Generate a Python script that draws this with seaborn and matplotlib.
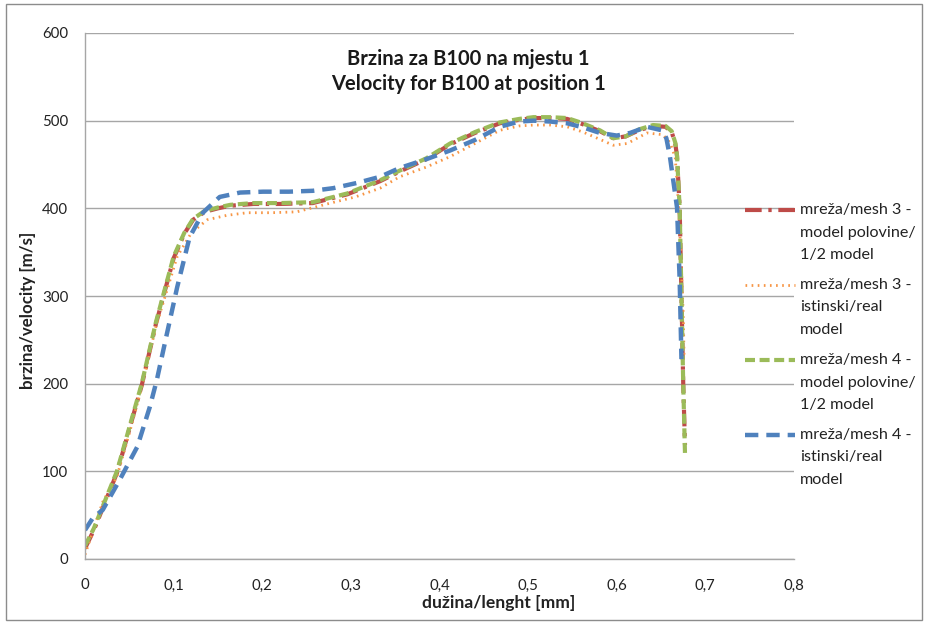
import matplotlib
matplotlib.use("Agg")
import matplotlib.pyplot as plt
import seaborn as sns
import pandas as pd
from matplotlib.patches import Rectangle
from matplotlib.lines import Line2D
from matplotlib.font_manager import FontProperties

# ---- data ----
labels = [
    "mreža/mesh 3 -\nmodel polovine/\n1/2 model",
    "mreža/mesh 3 -\nistinski/real\nmodel",
    "mreža/mesh 4 -\nmodel polovine/\n1/2 model",
    "mreža/mesh 4 -\nistinski/real\nmodel",
]

x_m3_half = [0, 0.01, 0.02, 0.036, 0.05, 0.064, 0.08, 0.1, 0.112, 0.122, 0.135, 0.15, 0.164,
             0.19, 0.22, 0.257, 0.296, 0.333, 0.355, 0.385, 0.412, 0.44, 0.468, 0.49, 0.506,
             0.525, 0.544, 0.559, 0.581, 0.596, 0.61, 0.625, 0.641, 0.655, 0.662, 0.666,
             0.668, 0.671, 0.673, 0.675, 0.677]
y_m3_half = [12, 33, 58, 98, 148, 198, 268, 343, 371, 387, 396, 400, 403, 405, 405, 406, 416,
             431, 442, 456, 473, 486, 497, 501, 503, 503, 502, 497, 488, 480, 482, 489, 494,
             493, 487, 474, 460, 400, 300, 200, 130]

x_m3_real = [0, 0.01, 0.02, 0.036, 0.051, 0.064, 0.08, 0.104, 0.12, 0.138, 0.16, 0.183, 0.21,
             0.239, 0.277, 0.305, 0.333, 0.355, 0.385, 0.412, 0.44, 0.468, 0.49, 0.506, 0.525,
             0.544, 0.562, 0.578, 0.596, 0.612, 0.634, 0.652, 0.66, 0.666, 0.67, 0.673, 0.675,
             0.676]
y_m3_real = [5, 35, 65, 94, 147, 196, 265, 345, 372, 387, 392, 395, 395, 396, 406, 413, 423,
             436, 447, 459, 474, 489, 494, 495, 495, 493, 487, 480, 472, 474, 486, 484, 475,
             458, 400, 330, 280, 230]

x_m4_half = [0, 0.01, 0.02, 0.036, 0.05, 0.064, 0.08, 0.1, 0.112, 0.122, 0.135, 0.15, 0.164,
             0.19, 0.22, 0.257, 0.296, 0.333, 0.355, 0.385, 0.412, 0.44, 0.468, 0.49, 0.506,
             0.525, 0.544, 0.559, 0.581, 0.596, 0.61, 0.625, 0.641, 0.655, 0.662, 0.666,
             0.668, 0.671, 0.673, 0.675, 0.677]
y_m4_half = [15, 35, 60, 100, 150, 200, 270, 345, 372, 388, 397, 401, 404, 406, 406, 407, 417,
             432, 443, 457, 474, 487, 498, 502, 504, 504, 503, 498, 489, 480, 482, 490, 495,
             494, 488, 475, 460, 400, 300, 200, 120]

x_m4_real = [0, 0.009, 0.02, 0.039, 0.059, 0.073, 0.081, 0.092, 0.104, 0.118, 0.133, 0.152,
             0.175, 0.201, 0.23, 0.257, 0.28, 0.307, 0.333, 0.355, 0.385, 0.412, 0.44, 0.468,
             0.49, 0.506, 0.525, 0.544, 0.563, 0.581, 0.6, 0.615, 0.634, 0.651, 0.656, 0.66,
             0.664, 0.668, 0.671, 0.673]
y_m4_real = [33, 47, 56, 90, 128, 173, 204, 255, 310, 367, 395, 413, 418, 419, 419, 420, 423,
             429, 436, 446, 456, 466, 478, 493, 499, 500, 499, 497, 492, 486, 483, 486, 493,
             489, 480, 459, 430, 401, 318, 228]

xticks = [0, 0.1, 0.2, 0.3, 0.4, 0.5, 0.6, 0.7, 0.8]
xtick_labels = ["0", "0,1", "0,2", "0,3", "0,4", "0,5", "0,6", "0,7", "0,8"]
yticks = [0, 100, 200, 300, 400, 500, 600]

title = "Brzina za B100 na mjestu 1\nVelocity for B100 at position 1"
xlabel = "dužina/lenght [mm]"
ylabel = "brzina/velocity [m/s]"

# ---- style ----
sns.set_theme(style="white")
FAM = ["Lato", "DejaVu Sans"]
plt.rcParams["font.family"] = FAM

colors = ["#BE4B48", "#F79646", "#9BBB59", "#4F81BD"]
styles = [
    dict(lw=3.0, dashes=(4, 1.6, 0.8, 1.6)),
    dict(lw=2.0, dashes=(0.6, 1.6)),
    dict(lw=3.0, dashes=(2.4, 1.1)),
    dict(lw=3.2, dashes=(3.0, 1.8)),
]

series = [(x_m3_half, y_m3_half), (x_m3_real, y_m3_real),
          (x_m4_half, y_m4_half), (x_m4_real, y_m4_real)]

W, H = 928, 623
fig = plt.figure(figsize=(W / 100, H / 100), dpi=100)
renderer = fig.canvas.get_renderer()


def size_for_width(text, target_px, weight="normal", base=12.0):
    fp = FontProperties(family=FAM, weight=weight, size=base)
    w, _, _ = renderer.get_text_width_height_descent(text, fp, ismath=False)
    return base * target_px / w


fs_tick = size_for_width("600", 26)
fs_xlab = size_for_width(xlabel, 152, "bold")
fs_ylab = size_for_width(ylabel, 157, "bold")
fs_title = size_for_width("Velocity for B100 at position 1", 273, "bold")
fs_leg = size_for_width("model polovine/", 116)

ax = fig.add_axes([85 / W, 64 / H, 709 / W, 526 / H])

for (xs, ys), c, st in zip(series, colors, styles):
    df = pd.DataFrame({"x": xs, "y": ys})
    sns.lineplot(data=df, x="x", y="y", sort=False, ax=ax, color=c,
                 linewidth=st["lw"], estimator=None, legend=False)
    ln = ax.get_lines()[-1]
    ln.set_dashes(st["dashes"])
    ln.set_dash_capstyle("butt")

ax.set_xlim(0, 0.8)
ax.set_ylim(0, 600)
ax.set_xticks(xticks)
ax.set_xticklabels(xtick_labels)
ax.set_yticks(yticks)
ax.yaxis.grid(True, color="#A6A6A6", linewidth=1.0)
ax.xaxis.grid(False)
ax.set_axisbelow(True)
for s in ["top", "right"]:
    ax.spines[s].set_visible(False)
for s in ["left", "bottom"]:
    ax.spines[s].set_color("#A6A6A6")
    ax.spines[s].set_linewidth(1.0)
ax.tick_params(axis="both", which="both", direction="out", length=6, width=1,
               color="#A6A6A6", labelsize=fs_tick, labelcolor="#222222", pad=6)
ax.tick_params(axis="x", pad=8)

xl = ax.set_xlabel(xlabel, fontsize=fs_xlab, fontweight="bold", color="#222222")
yl = ax.set_ylabel(ylabel, fontsize=fs_ylab, fontweight="bold", color="#222222")
ax.xaxis.set_label_coords((499 - 85) / 709, (559 - 603) / 526)
xl.set_verticalalignment("center")
ax.yaxis.set_label_coords((28 - 85) / 709, (559 - 310) / 526)
yl.set_verticalalignment("center")
yl.set_horizontalalignment("center")

# title: two lines with fixed baselines
for j, part in enumerate(title.split("\n")):
    fig.text(468 / W, 1 - (65 + 25 * j) / H, part, ha="center", va="baseline",
             fontsize=fs_title, fontweight="bold", color="#1a1a1a")

# ---- legend (handles aligned with the first line of each label) ----
for i, (lab, c, st) in enumerate(zip(labels, colors, styles)):
    yc = 210 + 75 * i
    h = Line2D([745 / W, 795 / W], [1 - yc / H, 1 - yc / H], transform=fig.transFigure,
               color=c, linewidth=st["lw"], solid_capstyle="butt")
    h.set_dashes(st["dashes"])
    h.set_dash_capstyle("butt")
    fig.add_artist(h)
    for j, part in enumerate(lab.split("\n")):
        fig.text(800 / W, 1 - (yc + 4 + 22.5 * j) / H, part, ha="left", va="baseline",
                 fontsize=fs_leg, color="#222222")

fig.patches.append(Rectangle((6 / W, 3 / H), 916 / W, 616 / H, transform=fig.transFigure,
                             fill=False, edgecolor="#8C8C8C", linewidth=1.0))

fig.savefig("out.png", dpi=100)
